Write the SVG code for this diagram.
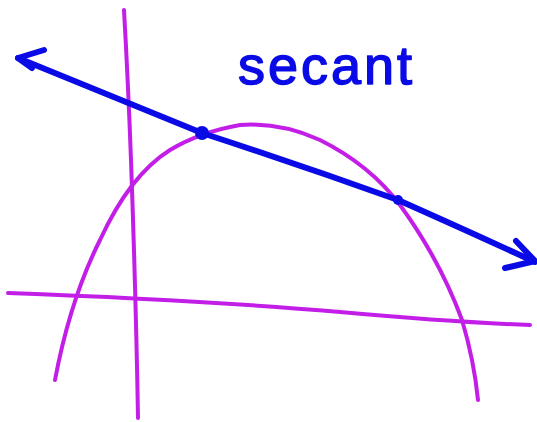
<svg xmlns="http://www.w3.org/2000/svg" width="537" height="422" viewBox="0 0 537 422">
<style>
.p{fill:none;stroke:#c21ee8;stroke-width:4;stroke-linecap:round;stroke-linejoin:round}
.b{fill:none;stroke:#0a0ae6;stroke-width:6;stroke-linecap:round;stroke-linejoin:round}
.t{font-family:"Liberation Sans","DejaVu Sans",sans-serif;font-size:54px;fill:#0a0ae6;stroke:#0a0ae6;stroke-width:1.5;stroke-linejoin:round}
</style>
<rect width="537" height="422" fill="#fff"/>
<g id="axes">
<path class="p" d="M124 10 Q128 80 131 160 Q136 300 138 418"/>
<path class="p" d="M8 293 Q200 300 340 312 Q450 322 530 325"/>
</g>
<g id="curve">
<path class="p" d="M55 380 Q70 300 100 240 Q130 175 170 150 Q200 132 240 125 Q280 122 320 140 Q370 165 400 205 Q440 260 462 320 Q474 360 478 400"/>
</g>
<g id="connectors">
<path class="b" d="M18 58 L202 133 Q300 165 398 200 Q470 232 535 262"/>
<path class="b" d="M44 50 L18 58 L32 68"/>
<path class="b" d="M516 241 L535 261 L505 268"/>
</g>
<g id="points">
<circle cx="202" cy="133" r="7" fill="#0a0ae6"/>
<circle cx="398" cy="200" r="5" fill="#0a0ae6"/>
</g>
<g id="label">
<text class="t" x="238" y="84" textLength="174" lengthAdjust="spacing">secant</text>
</g>
</svg>
